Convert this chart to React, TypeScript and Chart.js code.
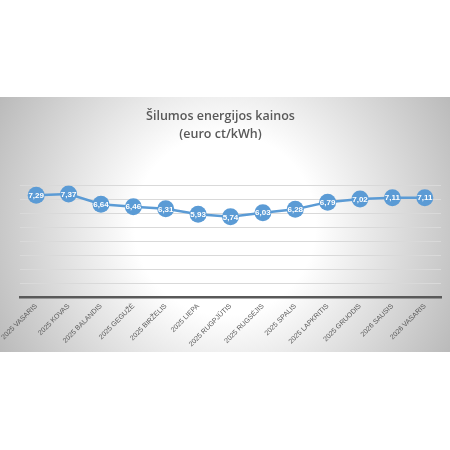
import React, { useEffect, useRef } from "react";
import { Chart, registerables } from "chart.js";

Chart.register(...registerables);

const categories = [
  "2025 VASARIS",
  "2025 KOVAS",
  "2025 BALANDIS",
  "2025 GEGUŽĖ",
  "2025 BIRŽELIS",
  "2025 LIEPA",
  "2025 RUGPJŪTIS",
  "2025 RUGSĖJIS",
  "2025 SPALIS",
  "2025 LAPKRITIS",
  "2025 GRUODIS",
  "2026 SAUSIS",
  "2026 VASARIS",
];
const prices = [7.29, 7.37, 6.64, 6.46, 6.31, 5.93, 5.74, 6.03, 6.28, 6.79, 7.02, 7.11, 7.11];
const titleLines = ["Šilumos energijos kainos", "(euro ct/kWh)"];

const bgPlugin = {
  id: "bgGradient",
  beforeDraw(chart: any) {
    const { ctx, width, height } = chart;
    ctx.save();
    const cx = width / 2;
    const cy = height / 2;
    const g = ctx.createRadialGradient(cx, cy, 0, cx, cy, Math.hypot(cx, cy));
    g.addColorStop(0, "#ffffff");
    g.addColorStop(0.35, "#ffffff");
    g.addColorStop(1, "#bababa");
    ctx.fillStyle = g;
    ctx.fillRect(0, 0, width, height);
    ctx.restore();
  },
};

const labelPlugin = {
  id: "pointLabels",
  afterDatasetsDraw(chart: any) {
    const { ctx } = chart;
    const meta = chart.getDatasetMeta(0);
    ctx.save();
    ctx.fillStyle = "#ffffff";
    ctx.font = "bold 8px 'Liberation Sans', Arial, sans-serif";
    ctx.textAlign = "center";
    ctx.textBaseline = "middle";
    meta.data.forEach((pt: any, i: number) => {
      ctx.fillText(prices[i].toFixed(2).replace(".", ","), pt.x, pt.y + 0.5);
    });
    ctx.restore();
  },
};

export default function App() {
  const ref = useRef<HTMLCanvasElement | null>(null);
  useEffect(() => {
    if (!ref.current) return;
    const chart = new Chart(ref.current, {
      type: "line",
      data: {
        labels: categories,
        datasets: [
          {
            data: prices,
            borderColor: "#5b9bd5",
            backgroundColor: "#5b9bd5",
            borderWidth: 2.5,
            pointRadius: 8.5,
            pointBackgroundColor: "#5b9bd5",
            pointBorderColor: "#5b9bd5",
            pointBorderWidth: 0,
            tension: 0,
          },
        ],
      },
      options: {
        animation: false,
        responsive: false,
        devicePixelRatio: 1,
        layout: { padding: { left: 0, right: 9, top: 0, bottom: 0 } },
        plugins: {
          legend: { display: false },
          tooltip: { enabled: false },
          title: {
            display: true,
            text: titleLines,
            color: "#595959",
            font: { family: "'Open Sans', sans-serif", size: 12.5, weight: "600", lineHeight: 1.45 },
            padding: { top: 10, bottom: 42 },
          },
        },
        scales: {
          x: {
            offset: true,
            afterFit(scale: any) {
              scale.height = 55;
              scale.paddingLeft = 0;
              scale.paddingRight = 0;
            },
            grid: { display: false, drawTicks: false, offset: true },
            border: { display: true, color: "#595959", width: 2.5 },
            ticks: {
              autoSkip: false,
              maxRotation: 45,
              minRotation: 45,
              color: "#595959",
              padding: 5,
              font: { family: "'Liberation Sans', Arial, sans-serif", size: 7 },
            },
          },
          y: {
            min: 0,
            max: 8,
            afterFit(scale: any) {
              scale.width = 20;
              scale.paddingTop = 0;
              scale.paddingBottom = 0;
            },
            ticks: { display: false, stepSize: 1 },
            grid: { color: "#d9d9d9", lineWidth: 1, drawTicks: false },
            border: { display: false },
          },
        },
      },
      plugins: [bgPlugin, labelPlugin],
    } as any);
    return () => chart.destroy();
  }, []);
  return (
    <div style={{ position: "absolute", left: 0, top: 0, width: 450, height: 450, background: "#ffffff" }}>
      <canvas
        ref={ref}
        width={450}
        height={255}
        style={{ position: "absolute", left: 0, top: 97, width: 450, height: 255 }}
      />
    </div>
  );
}
